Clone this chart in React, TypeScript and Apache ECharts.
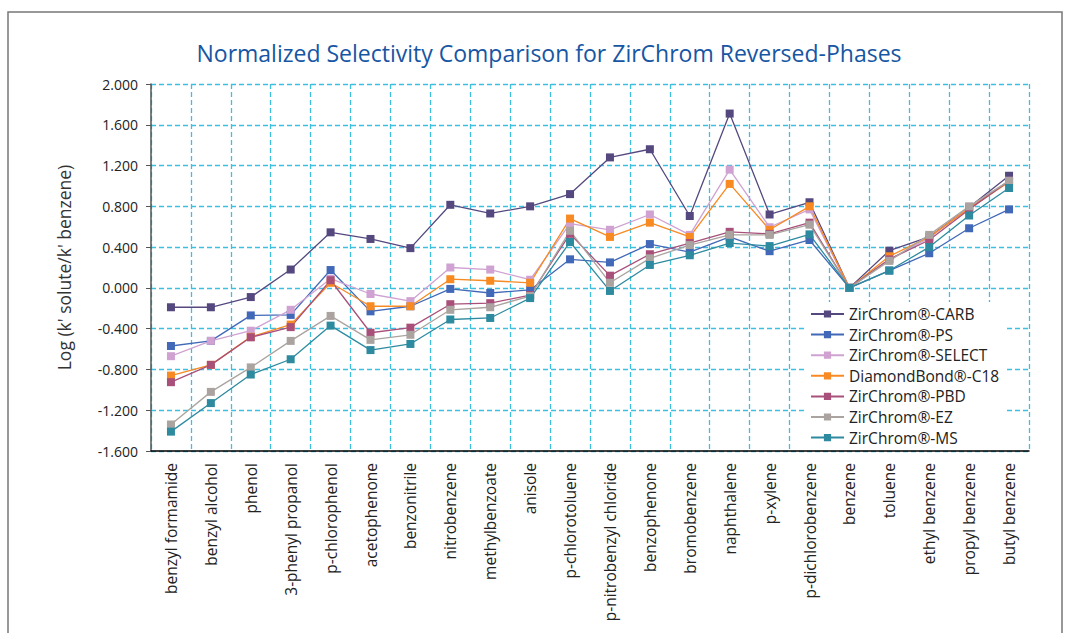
import React, { useEffect, useRef } from "react";
import * as echarts from "echarts";

const categories = [
  "benzyl formamide", "benzyl alcohol", "phenol", "3-phenyl propanol", "p-chlorophenol",
  "acetophenone", "benzonitrile", "nitrobenzene", "methylbenzoate", "anisole",
  "p-chlorotoluene", "p-nitrobenzyl chloride", "benzophenone", "bromobenzene", "naphthalene",
  "p-xylene", "p-dichlorobenzene", "benzene", "toluene", "ethyl benzene", "propyl benzene", "butyl benzene",
];

const seriesNames = [
  "ZirChrom®-CARB", "ZirChrom®-PS", "ZirChrom®-SELECT", "DiamondBond®-C18",
  "ZirChrom®-PBD", "ZirChrom®-EZ", "ZirChrom®-MS",
];

const carb = [-0.19, -0.19, -0.09, 0.18, 0.545, 0.48, 0.39, 0.815, 0.73, 0.80, 0.92, 1.28, 1.36, 0.705, 1.71, 0.72, 0.84, 0, 0.365, 0.50, 0.79, 1.10];
const ps = [-0.57, -0.52, -0.27, -0.265, 0.175, -0.23, -0.18, -0.01, -0.05, -0.02, 0.28, 0.25, 0.43, 0.35, 0.50, 0.36, 0.47, 0, 0.17, 0.34, 0.585, 0.77];
const select = [-0.67, -0.52, -0.42, -0.215, 0.09, -0.06, -0.13, 0.20, 0.18, 0.08, 0.63, 0.57, 0.72, 0.52, 1.16, 0.595, 0.77, 0, 0.28, 0.49, 0.79, 1.05];
const c18 = [-0.86, -0.755, -0.48, -0.36, 0.05, -0.18, -0.18, 0.085, 0.07, 0.05, 0.68, 0.50, 0.64, 0.50, 1.02, 0.57, 0.80, 0, 0.31, 0.50, 0.78, 1.04];
const pbd = [-0.925, -0.755, -0.485, -0.385, 0.075, -0.44, -0.39, -0.16, -0.15, -0.07, 0.53, 0.12, 0.33, 0.44, 0.55, 0.53, 0.64, 0, 0.28, 0.47, 0.77, 1.05];
const ez = [-1.34, -1.02, -0.78, -0.52, -0.275, -0.51, -0.46, -0.215, -0.19, -0.08, 0.56, 0.05, 0.29, 0.42, 0.52, 0.52, 0.62, 0, 0.265, 0.52, 0.80, 1.05];
const ms = [-1.41, -1.13, -0.85, -0.70, -0.37, -0.61, -0.55, -0.31, -0.295, -0.10, 0.45, -0.03, 0.225, 0.32, 0.44, 0.41, 0.525, 0, 0.17, 0.40, 0.71, 0.98];

const seriesValues = [carb, ps, select, c18, pbd, ez, ms];
const seriesColors = ["#54487f", "#4169b8", "#cfa2d2", "#f78a22", "#a8507a", "#aba39f", "#2e8b9f"];

const FONT = "'Open Sans', 'DejaVu Sans', sans-serif";

export default function App() {
  const ref = useRef<HTMLDivElement>(null);
  useEffect(() => {
    document.body.style.margin = "0";
    const chart = echarts.init(ref.current!, undefined, { renderer: "svg" });
    chart.setOption({
      animation: false,
      backgroundColor: "#ffffff",
      title: {
        text: "Normalized Selectivity Comparison for ZirChrom Reversed-Phases",
        left: 544,
        top: 36,
        textAlign: "center",
        textStyle: { color: "#1656a3", fontSize: 23, fontWeight: 500, fontFamily: FONT },
      },
      graphic: [
        {
          type: "rect",
          shape: { x: 8, y: 12, width: 1054, height: 700 },
          style: { fill: "none", stroke: "#777777", lineWidth: 1.5 },
          silent: true,
          z: -1,
        },
      ],
      legend: {
        orient: "vertical",
        left: 806,
        top: 302,
        itemWidth: 33,
        itemHeight: 9,
        itemGap: 4.6,
        padding: [4, 6, 4, 4],
        backgroundColor: "#ffffff",
        textStyle: { fontSize: 15.5, color: "#222", fontFamily: FONT },
        data: seriesNames,
      },
      grid: { left: 151, right: 38, top: 84, bottom: 182, containLabel: false },
      xAxis: {
        type: "category",
        data: categories,
        boundaryGap: true,
        axisLine: { onZero: false, lineStyle: { color: "#000", width: 1.5 } },
        axisTick: { show: false },
        axisLabel: { interval: 0, rotate: 90, margin: 12, fontSize: 15.5, color: "#222", fontFamily: FONT },
        splitLine: { show: true, interval: 0, lineStyle: { color: "#3dbfe0", type: [5, 3], width: 1.3 } },
      },
      yAxis: {
        type: "value",
        min: -1.6,
        max: 2.0,
        interval: 0.4,
        name: "Log (k' solute/k' benzene)",
        nameLocation: "middle",
        nameGap: 78,
        nameTextStyle: { fontSize: 17.5, color: "#333", fontFamily: FONT },
        axisLine: { show: true, lineStyle: { color: "#555", width: 1.5 } },
        axisTick: { show: true, length: 5, lineStyle: { color: "#555" } },
        axisLabel: {
          fontSize: 14,
          color: "#222",
          margin: 13,
          fontFamily: FONT,
          formatter: (v: number) => v.toFixed(3),
        },
        splitLine: { show: true, lineStyle: { color: "#3dbfe0", type: [5, 3], width: 1.3 } },
      },
      series: seriesNames.map((name, i) => ({
        name,
        type: "line",
        data: seriesValues[i],
        symbol: "rect",
        symbolSize: 8,
        showAllSymbol: true,
        lineStyle: { color: seriesColors[i], width: 1.3 },
        itemStyle: { color: seriesColors[i] },
        emphasis: { disabled: true },
      })),
    });
    return () => chart.dispose();
  }, []);
  return <div ref={ref} style={{ width: 1067, height: 633 }} />;
}
